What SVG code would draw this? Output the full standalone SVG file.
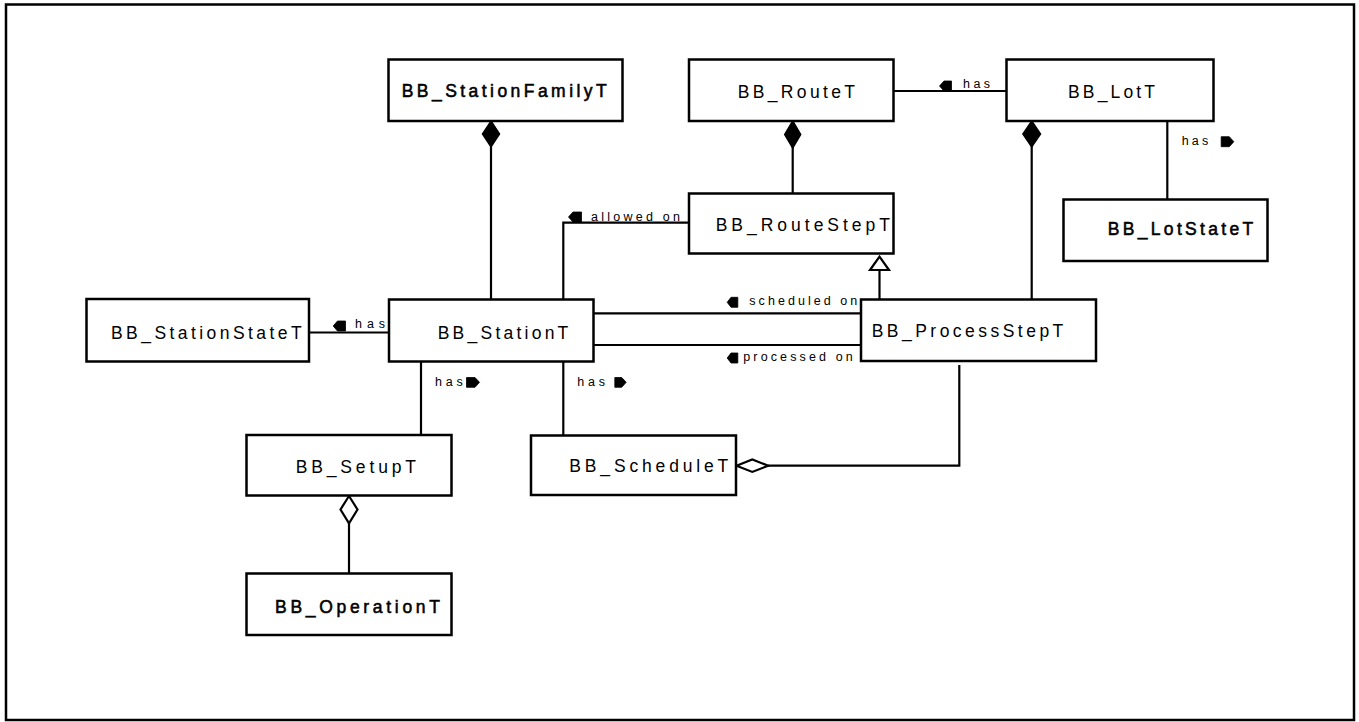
<svg xmlns="http://www.w3.org/2000/svg" width="1359" height="722" viewBox="0 0 1359 722">
<style>
.box{fill:#fff;stroke:#000;stroke-width:2.5}
.ln{fill:none;stroke:#000;stroke-width:2.2}
.nt{font-family:"Liberation Sans",Arial,sans-serif;font-size:17.5px;fill:#000}
.b{stroke:#000;stroke-width:0.55}
.lb{font-family:"Liberation Sans",Arial,sans-serif;font-size:12.5px;fill:#000}
.ar{fill:#000;stroke:#000;stroke-width:0.8;stroke-linejoin:round}
.fd{fill:#000;stroke:#000;stroke-width:1.5}
.hd{fill:#fff;stroke:#000;stroke-width:2.2}
</style>
<rect x="6" y="4.5" width="1348" height="715.5" fill="#fff" stroke="#000" stroke-width="2.5"/>
<g id="connectors">
  <line class="ln" x1="491" y1="146" x2="491" y2="299"/>
  <path class="fd" d="M491,121 L499.5,134 L491,147 L482.5,134 Z"/>
  <line class="ln" x1="792.7" y1="147" x2="792.7" y2="193.5"/>
  <path class="fd" d="M792.7,121 L800.7,134.5 L792.7,148 L784.7,134.5 Z"/>
  <line class="ln" x1="1031.7" y1="146" x2="1031.7" y2="299.5"/>
  <path class="fd" d="M1031.7,121 L1040.5,134 L1031.7,147 L1022.9,134 Z"/>
  <line class="ln" x1="893" y1="91" x2="1006.5" y2="91"/>
  <path class="ar" d="M939.5,86 L944,81 L951.5,81 L951.5,91 L944,91 Z"/>
  <text class="lb" x="963" y="88.3" textLength="27" lengthAdjust="spacing">has</text>
  <line class="ln" x1="1167.3" y1="121" x2="1167.3" y2="199.5"/>
  <path class="ar" d="M1233.8,141.7 L1229.3,136.7 L1221.2,136.7 L1221.2,146.7 L1229.3,146.7 Z"/>
  <text class="lb" x="1181.7" y="145" textLength="26.5" lengthAdjust="spacing">has</text>
  <polyline class="ln" points="563.3,299.5 563.3,222.7 689,222.7"/>
  <path class="ar" d="M568.5,217 L573,212 L581.5,212 L581.5,222 L573,222 Z"/>
  <text class="lb" x="591" y="220.7" textLength="89" lengthAdjust="spacing">allowed on</text>
  <line class="ln" x1="879.5" y1="269" x2="879.5" y2="299.5" stroke-width="3"/>
  <path class="hd" d="M879.5,256.7 L889,270 L870,270 Z" stroke-width="2.5"/>
  <line class="ln" x1="593" y1="313.3" x2="861" y2="313.3"/>
  <path class="ar" d="M727.2,302.3 L731,297.3 L737.8,297.3 L737.8,307.3 L731,307.3 Z"/>
  <text class="lb" x="749.3" y="305.3" textLength="108" lengthAdjust="spacing">scheduled on</text>
  <line class="ln" x1="593" y1="345" x2="861" y2="345"/>
  <path class="ar" d="M727.2,358 L731,353 L737.8,353 L737.8,363 L731,363 Z"/>
  <text class="lb" x="743.3" y="361" textLength="109.4" lengthAdjust="spacing">processed on</text>
  <line class="ln" x1="309" y1="332.5" x2="389" y2="332.5"/>
  <path class="ar" d="M333.2,326 L337.5,321 L345.5,321 L345.5,331 L337.5,331 Z"/>
  <text class="lb" x="355" y="328.3" textLength="30" lengthAdjust="spacing">has</text>
  <line class="ln" x1="421" y1="361.5" x2="421" y2="435"/>
  <path class="ar" d="M479.5,382.3 L475,377.5 L466.5,377.5 L466.5,387.3 L475,387.3 Z"/>
  <text class="lb" x="435" y="385.7" textLength="27.7" lengthAdjust="spacing">has</text>
  <line class="ln" x1="563.3" y1="361.5" x2="563.3" y2="435.5"/>
  <path class="ar" d="M626.2,382.3 L621.7,377.5 L614.8,377.5 L614.8,387.3 L621.7,387.3 Z"/>
  <text class="lb" x="577.3" y="385.7" textLength="27.7" lengthAdjust="spacing">has</text>
  <polyline class="ln" points="959.3,365 959.3,465.7 768,465.7"/>
  <path class="hd" d="M736.5,465.7 L752.3,459.5 L768.2,465.7 L752.3,471.9 Z"/>
  <line class="ln" x1="349" y1="522" x2="349" y2="573.5"/>
  <path class="hd" d="M349,496 L357.5,509.5 L349,523.3 L340.5,509.5 Z"/>
</g>
<g id="node-stationfamily">
  <rect class="box" x="388.5" y="59.5" width="234" height="61.5"/>
  <text class="nt b" x="401.7" y="96.7" textLength="205" lengthAdjust="spacing">BB_StationFamilyT</text>
</g>
<g id="node-route">
  <rect class="box" x="689" y="59.5" width="204.5" height="61.5"/>
  <text class="nt" x="737.7" y="97.7" textLength="117.3" lengthAdjust="spacing">BB_RouteT</text>
</g>
<g id="node-lot">
  <rect class="box" x="1006.5" y="59.5" width="207" height="61.5"/>
  <text class="nt" x="1068" y="97.7" textLength="87" lengthAdjust="spacing">BB_LotT</text>
</g>
<g id="node-routestep">
  <rect class="box" x="689" y="193.5" width="204.5" height="60"/>
  <text class="nt" x="715.7" y="231" textLength="174.3" lengthAdjust="spacing">BB_RouteStepT</text>
</g>
<g id="node-lotstate">
  <rect class="box" x="1063.5" y="199.5" width="204" height="61.5"/>
  <text class="nt b" x="1107.7" y="235" textLength="145.6" lengthAdjust="spacing">BB_LotStateT</text>
</g>
<g id="node-stationstate">
  <rect class="box" x="86.5" y="299" width="222.5" height="62.5"/>
  <text class="nt" x="111" y="339.3" textLength="190.7" lengthAdjust="spacing">BB_StationStateT</text>
</g>
<g id="node-station">
  <rect class="box" x="389" y="299.5" width="204.5" height="62"/>
  <text class="nt" x="437.7" y="339.3" textLength="130.6" lengthAdjust="spacing">BB_StationT</text>
</g>
<g id="node-processstep">
  <rect class="box" x="861" y="299.5" width="235" height="61.5"/>
  <text class="nt" x="871.7" y="336.7" textLength="191.6" lengthAdjust="spacing">BB_ProcessStepT</text>
</g>
<g id="node-setup">
  <rect class="box" x="246.5" y="435" width="205" height="60.5"/>
  <text class="nt" x="295.7" y="472.7" textLength="120.3" lengthAdjust="spacing">BB_SetupT</text>
</g>
<g id="node-schedule">
  <rect class="box" x="531" y="435.5" width="205" height="59.5"/>
  <text class="nt" x="569.3" y="471.7" textLength="159" lengthAdjust="spacing">BB_ScheduleT</text>
</g>
<g id="node-operation">
  <rect class="box" x="246.5" y="573.5" width="205" height="61.5"/>
  <text class="nt b" x="275" y="612.7" textLength="165" lengthAdjust="spacing">BB_OperationT</text>
</g>
</svg>
